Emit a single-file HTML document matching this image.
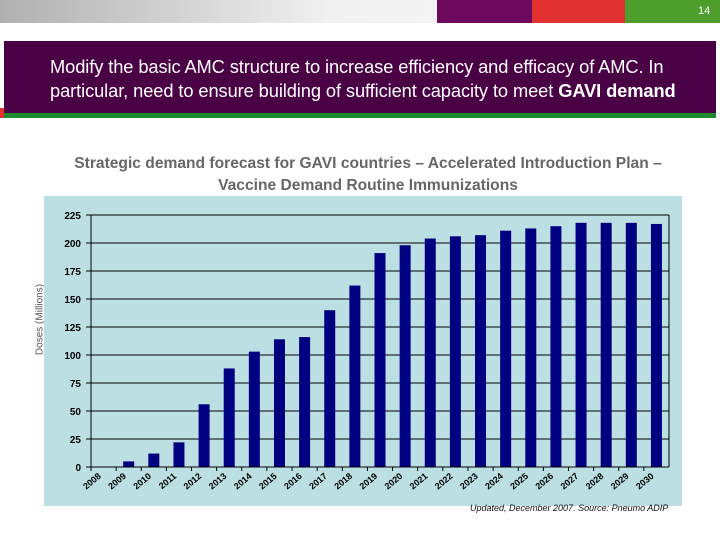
<!DOCTYPE html>
<html><head><meta charset="utf-8"><style>
body{margin:0;width:720px;height:540px;overflow:hidden;background:#fff;font-family:"Liberation Sans",sans-serif;position:relative}
div{position:absolute}
</style></head><body>
<div style="left:0;top:0;width:437px;height:23px;background:linear-gradient(to right,#b0b0b0,#f0f0f0 75%,#f4f4f4)"></div>
<div style="left:437px;top:0;width:95px;height:23px;background:#6e0a5e"></div>
<div style="left:532px;top:0;width:93px;height:23px;background:#e03030"></div>
<div style="left:625px;top:0;width:95px;height:23px;background:#4e9e2e"></div>
<div style="left:698px;top:5px;color:#fff;font-size:11px;font-family:'Liberation Sans Narrow','Liberation Sans',sans-serif">14</div>
<div style="left:0;top:108px;width:5px;height:10px;background:#e03030"></div>
<div style="left:4px;top:41px;width:712px;height:72px;background:#4a0045;border-bottom:5px solid #1e8a2e;color:#fff;font-size:18.3px;line-height:24px;box-sizing:content-box">
<div style="left:46px;top:14px;width:666px;letter-spacing:-0.1px">Modify the basic AMC structure to increase efficiency and efficacy of AMC. In particular, need to ensure building of sufficient capacity to meet <b>GAVI demand</b></div></div>
<div style="left:30px;top:153px;width:676px;text-align:center;color:#666;font-weight:bold;font-size:15.6px;line-height:22px">Strategic demand forecast for GAVI countries – Accelerated Introduction Plan –<br>Vaccine Demand Routine Immunizations</div>
<div style="left:-12px;top:314px;width:104px;text-align:center;transform:rotate(-90deg);color:#555;font-size:10px">Doses (Millions)</div>
<svg style="position:absolute;left:0;top:0" width="720" height="540" id="c"></svg>
<div style="left:470px;top:503px;font-style:italic;font-size:9px;color:#111">Updated, December 2007. Source: Pneumo ADIP</div>
<script>
const categories=["2008","2009","2010","2011","2012","2013","2014","2015","2016","2017","2018","2019","2020","2021","2022","2023","2024","2025","2026","2027","2028","2029","2030"];
const doses=[0,5,12,22,56,88,103,114,116,140,162,191,198,204,206,207,211,213,215,218,218,218,217];
const yTicks=[0,25,50,75,100,125,150,175,200,225];
const svg=document.getElementById('c');const NS='http://www.w3.org/2000/svg';
const L=91,R=669,T=215,B=467,yMax=225;
const y=v=>B-(v/yMax)*(B-T);
const step=(R-L)/categories.length;
const x=i=>L+step*i;
function mk(t,a){const e=document.createElementNS(NS,t);for(const k in a)e.setAttribute(k,a[k]);svg.appendChild(e);return e;}
let bg=mk('rect',{x:44,y:196,width:638,height:310,fill:'#bcdfe3'});


yTicks.forEach(v=>{
 let g=mk('line',{x1:L-5,x2:R,y1:y(v),y2:y(v),stroke:'#000','stroke-width':1});
 
 
 let t=mk('text',{x:81,y:y(v)+4,'text-anchor':'end','font-size':10,'font-weight':'bold','font-family':'Liberation Sans, sans-serif'});
 t.textContent=v;
 
 
});
let ax=mk('line',{x1:L,x2:L,y1:T,y2:B,stroke:'#000'});


let ax2=mk('line',{x1:R,x2:R,y1:T,y2:B,stroke:'#000'});


categories.forEach((c,i)=>{
 let tk=mk('line',{x1:x(i),x2:x(i),y1:B,y2:B+4,stroke:'#000'});
 
 
 const bw=11,cx=x(i)+step/2;
 if(doses[i]>0){
  let b=mk('rect',{x:cx-bw/2,y:y(doses[i]),width:bw,height:B-y(doses[i]),fill:'#000080'});
  
  
 }
 let t=mk('text',{x:cx-2,y:B+10,'text-anchor':'end','font-size':9,'font-weight':'bold','font-family':'Liberation Sans, sans-serif',transform:`rotate(-40 ${cx-2} ${B+10})`});
 t.textContent=c;
 
 
});
let ax3=mk('line',{x1:L,x2:R,y1:B,y2:B,stroke:'#000'});


</script>
</body></html>
